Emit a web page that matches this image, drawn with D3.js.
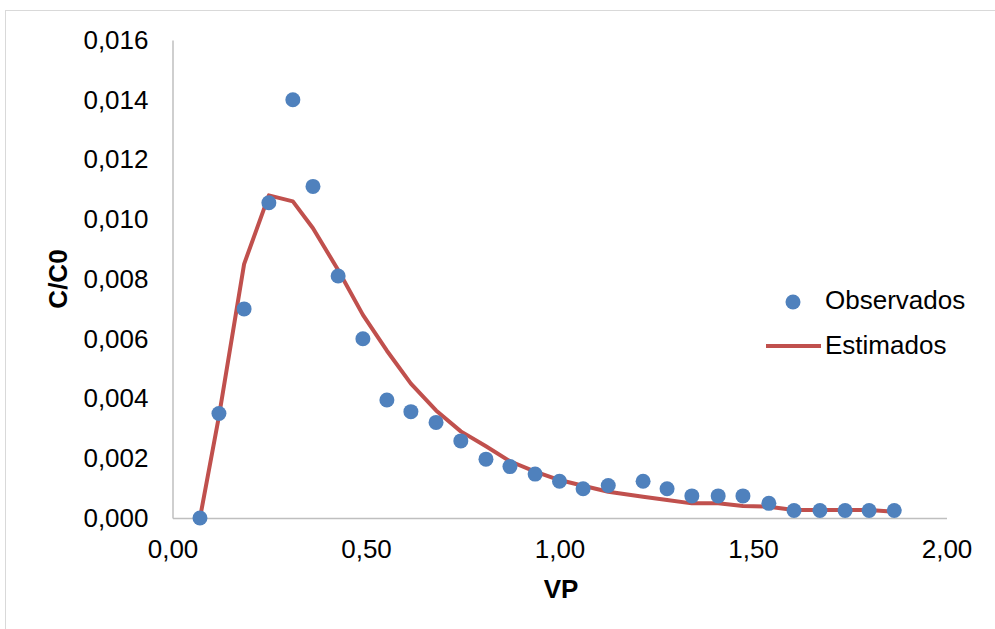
<!DOCTYPE html>
<html>
<head>
<meta charset="utf-8">
<script src="https://cdn.jsdelivr.net/npm/d3@7"></script>
<style>
  body { margin: 0; background: #fff; }
  text { font-family: "Liberation Sans", Arial, sans-serif; }
</style>
</head>
<body>
<script>
//chart values
var vp = [0.071, 0.120, 0.185, 0.249, 0.311, 0.363, 0.428, 0.492, 0.554, 0.616,
  0.681, 0.745, 0.810, 0.872, 0.937, 1.000, 1.061, 1.126, 1.216, 1.278,
  1.342, 1.410, 1.474, 1.541, 1.606, 1.673, 1.738, 1.800, 1.865];
var observados = [0.0000, 0.0035, 0.0070, 0.01055, 0.0140, 0.0111, 0.0081, 0.0060, 0.00395, 0.00356,
  0.0032, 0.00258, 0.00197, 0.00172, 0.00147, 0.00123, 0.00098, 0.00109, 0.00123, 0.00098,
  0.00074, 0.00074, 0.00074, 0.00049, 0.00025, 0.00025, 0.00025, 0.00025, 0.00025];
var estimados = [0.0000, 0.0034, 0.0085, 0.0108, 0.0106, 0.0097, 0.0083, 0.0068, 0.0056, 0.0045,
  0.0036, 0.0029, 0.0024, 0.0019, 0.00155, 0.00127, 0.00108, 0.00088, 0.00071, 0.0006,
  0.00049, 0.00049, 0.0004, 0.00038, 0.00027, 0.00027, 0.00027, 0.00027, 0.00021];
var xTicks = [0, 0.5, 1.0, 1.5, 2.0];
var yTicks = [0, 0.002, 0.004, 0.006, 0.008, 0.010, 0.012, 0.014, 0.016];
var seriesNames = ["Observados", "Estimados"];
var dotColor = "#4F81BD";
var lineColor = "#C0504D";
var fontSize = 26;

var width = 995, height = 629;
var svg = d3.select("body").append("svg")
  .attr("width", width)
  .attr("height", height);

//outer chart border
svg.append("rect")
  .attr("x", 5.5).attr("y", 10.5)
  .attr("width", 1000).attr("height", 700)
  .attr("fill", "none")
  .attr("stroke", "#d9d9d9");

var xScale = d3.scaleLinear().domain([0, 2]).range([172.5, 946.5]);
var yScale = d3.scaleLinear().domain([0, 0.016]).range([518, 40]);

function comma(fmt) {
  var f = d3.format(fmt);
  return function(d) { return f(d).replace(".", ","); };
}

//x axis
var xAxis = d3.axisBottom(xScale).tickValues(xTicks).tickSize(0).tickPadding(22)
  .tickFormat(comma(".2f"));
var gx = svg.append("g")
  .attr("transform", "translate(0," + 518 + ")")
  .call(xAxis);
gx.select(".domain").attr("stroke", "#bfbfbf").attr("stroke-width", 1.5);
gx.selectAll("text").attr("font-size", fontSize).attr("fill", "#000")
  .style("font-family", "Liberation Sans, Arial, sans-serif");

//y axis
var yAxis = d3.axisLeft(yScale).tickValues(yTicks).tickSize(0).tickPadding(24)
  .tickFormat(comma(".3f"));
var gy = svg.append("g")
  .attr("transform", "translate(172.5,0)")
  .call(yAxis);
gy.select(".domain").attr("stroke", "#bfbfbf").attr("stroke-width", 1.5);
gy.selectAll("text").attr("font-size", fontSize).attr("fill", "#000")
  .style("font-family", "Liberation Sans, Arial, sans-serif");

//axis titles
svg.append("text")
  .attr("x", 561).attr("y", 598)
  .attr("text-anchor", "middle")
  .attr("font-size", fontSize).attr("font-weight", "bold")
  .text("VP");
svg.append("text")
  .attr("transform", "translate(67,279) rotate(-90)")
  .attr("text-anchor", "middle")
  .attr("font-size", fontSize).attr("font-weight", "bold")
  .text("C/C0");

//estimated line
var line = d3.line()
  .x(function(d, i) { return xScale(vp[i]); })
  .y(function(d) { return yScale(d); });
svg.append("path")
  .datum(estimados)
  .attr("d", line)
  .attr("fill", "none")
  .attr("stroke", lineColor)
  .attr("stroke-width", 4)
  .attr("stroke-linejoin", "round");

//observed dots
svg.selectAll("circle.obs")
  .data(observados)
  .enter()
  .append("circle")
  .attr("class", "obs")
  .attr("cx", function(d, i) { return xScale(vp[i]); })
  .attr("cy", function(d) { return yScale(d); })
  .attr("r", 7.5)
  .attr("fill", dotColor);

//legend
var legend = svg.append("g").attr("transform", "translate(766,300)");
legend.append("circle")
  .attr("cx", 27).attr("cy", 2).attr("r", 7.5)
  .attr("fill", dotColor);
legend.append("text")
  .attr("x", 59).attr("y", 9)
  .attr("font-size", fontSize)
  .text(seriesNames[0]);
legend.append("line")
  .attr("x1", 0).attr("x2", 55)
  .attr("y1", 46).attr("y2", 46)
  .attr("stroke", lineColor).attr("stroke-width", 4);
legend.append("text")
  .attr("x", 59).attr("y", 54)
  .attr("font-size", fontSize)
  .text(seriesNames[1]);
</script>
</body>
</html>
